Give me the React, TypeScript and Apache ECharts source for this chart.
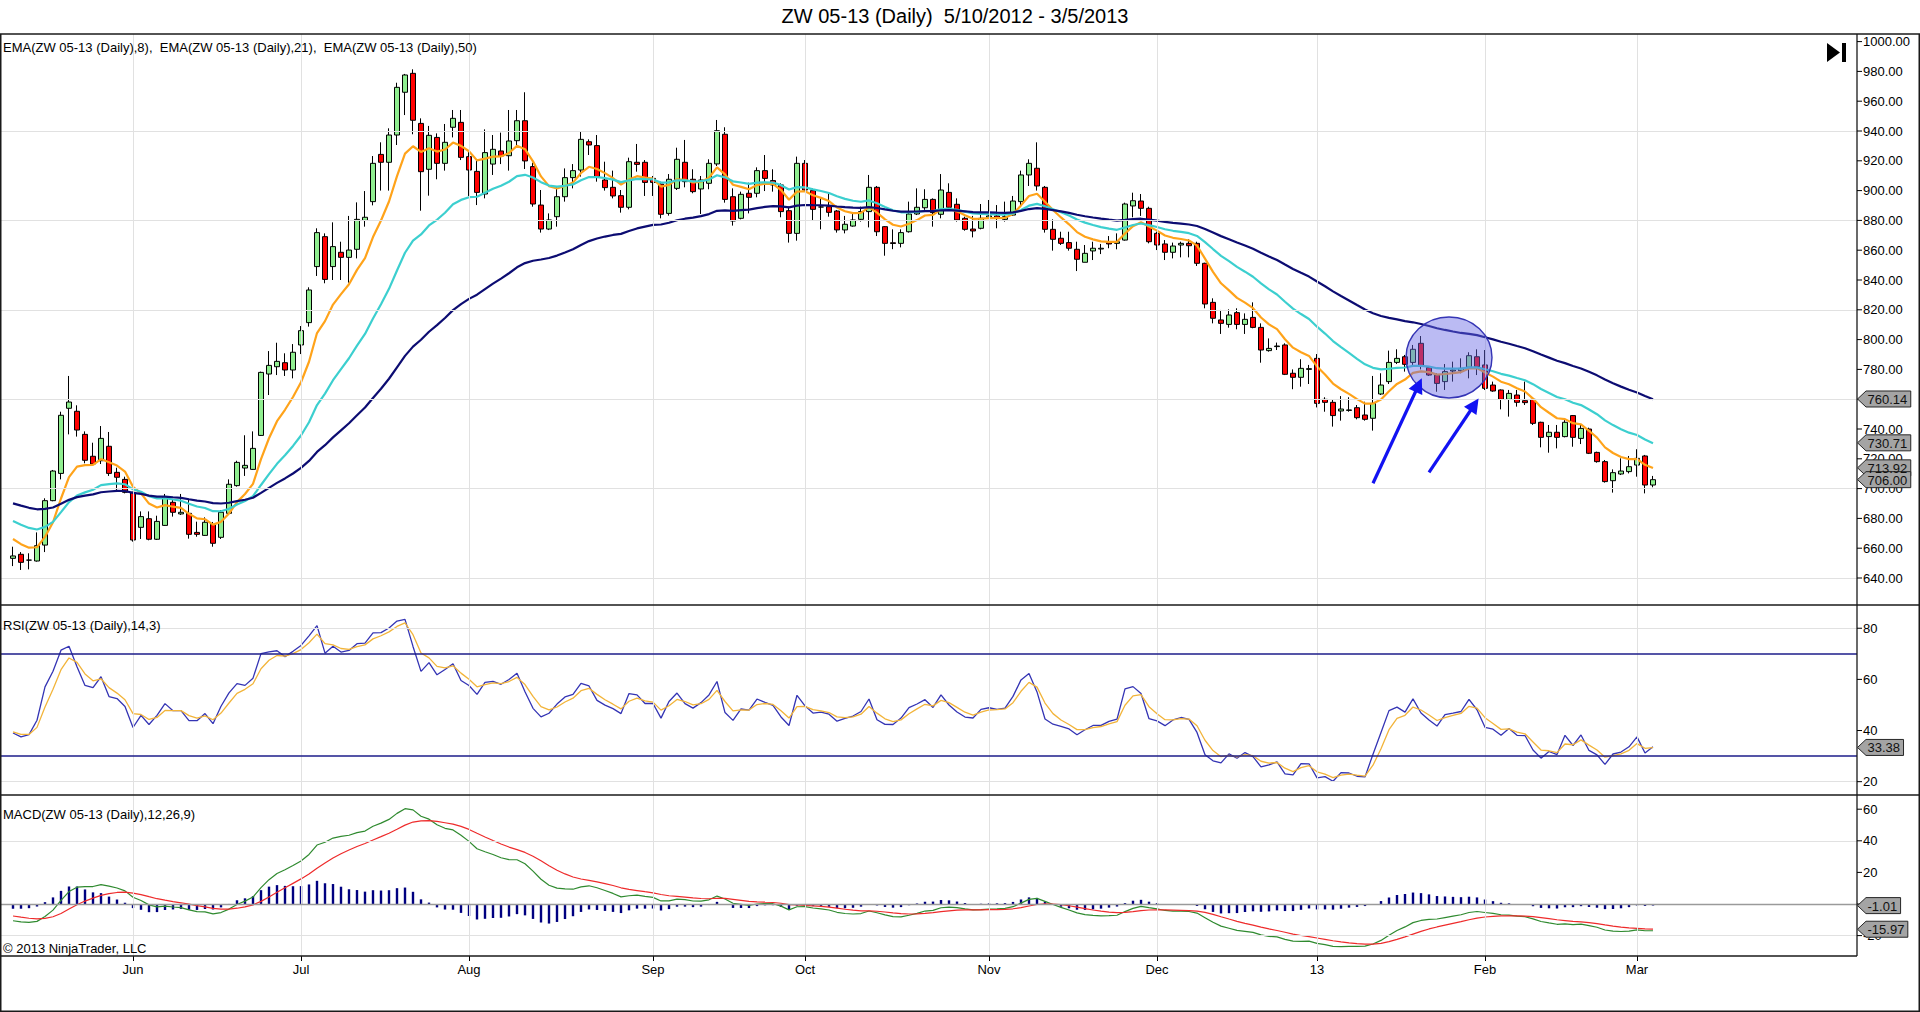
import React, { useEffect, useRef } from "react";
import * as echarts from "echarts";

const FONT = "'Liberation Sans', Arial, Helvetica, sans-serif";

const TITLE = "ZW 05-13 (Daily)  5/10/2012 - 3/5/2013";
const EMA_LEGEND = "EMA(ZW 05-13 (Daily),8),  EMA(ZW 05-13 (Daily),21),  EMA(ZW 05-13 (Daily),50)";
const RSI_LEGEND = "RSI(ZW 05-13 (Daily),14,3)";
const MACD_LEGEND = "MACD(ZW 05-13 (Daily),12,26,9)";
const COPYRIGHT = "© 2013 NinjaTrader, LLC";

// trading days
const MONTH_KEYS = ["2012-05", "2012-06", "2012-07", "2012-08", "2012-09", "2012-10", "2012-11", "2012-12", "2013-01", "2013-02", "2013-03"];
const MONTH_NAMES = ["", "Jun", "Jul", "Aug", "Sep", "Oct", "Nov", "Dec", "13", "Feb", "Mar"];
const MONTH_DAYS = [
  [10, 11, 14, 15, 16, 17, 18, 21, 22, 23, 24, 25, 29, 30, 31],
  [1, 4, 5, 6, 7, 8, 11, 12, 13, 14, 15, 18, 19, 20, 21, 22, 25, 26, 27, 28, 29],
  [2, 3, 5, 6, 9, 10, 11, 12, 13, 16, 17, 18, 19, 20, 23, 24, 25, 26, 27, 30, 31],
  [1, 2, 3, 6, 7, 8, 9, 10, 13, 14, 15, 16, 17, 20, 21, 22, 23, 24, 27, 28, 29, 30, 31],
  [4, 5, 6, 7, 10, 11, 12, 13, 14, 17, 18, 19, 20, 21, 24, 25, 26, 27, 28],
  [1, 2, 3, 4, 5, 8, 9, 10, 11, 12, 15, 16, 17, 18, 19, 22, 23, 24, 25, 26, 29, 30, 31],
  [1, 2, 5, 6, 7, 8, 9, 12, 13, 14, 15, 16, 19, 20, 21, 23, 26, 27, 28, 29, 30],
  [3, 4, 5, 6, 7, 10, 11, 12, 13, 14, 17, 18, 19, 20, 21, 24, 26, 27, 28, 31],
  [2, 3, 4, 7, 8, 9, 10, 11, 14, 15, 16, 17, 18, 22, 23, 24, 25, 28, 29, 30, 31],
  [1, 4, 5, 6, 7, 8, 11, 12, 13, 14, 15, 19, 20, 21, 22, 25, 26, 27, 28],
  [1, 4, 5],
];

const OPEN = [
  653.2, 655.9, 652, 651.4, 662.1, 691.9, 710.2, 753.9, 751.9, 736.4,
  721.7, 718.7, 728.4, 710.9, 706.2, 697.5, 674, 679.8, 666, 675.3,
  690.8, 683, 683.4, 670.6, 668.6, 676, 667.3, 683.4, 702, 713.8,
  712.9, 735.7, 776.9, 781.8, 784.5, 779.6, 796.4, 811.4, 849, 869.1,
  849, 858.6, 855.2, 860.6, 880, 892.6, 924.3, 919, 937.3, 966,
  978.7, 945.1, 914.3, 935.7, 918.3, 942.5, 945.8, 922.8, 912.9, 897.7,
  917.8, 926.6, 923.4, 933.5, 946.9, 916.1, 890.3, 874.2, 882.5, 895.9,
  908.7, 913.8, 932.8, 930.2, 907.1, 902.2, 896.6, 888.8, 919, 919,
  908.2, 904.4, 884.7, 901.5, 919, 907.6, 901.1, 904.9, 917.9, 937.8,
  895.9, 881.4, 898.2, 898.2, 913.4, 906.7, 903.8, 886.5, 871.3, 918.3,
  900, 889, 889.2, 886.3, 873.6, 876.2, 880.7, 885.9, 902.2, 875.8,
  865, 864.6, 872.4, 884.3, 888.5, 894.1, 884.1, 898.8, 890.8, 881.4,
  874.2, 874.7, 882.1, 883, 880.7, 883.6, 892.6, 910.5, 915, 902.2,
  874, 868, 865.1, 860.6, 851.9, 859.5, 860.8, 865.1, 864.6, 866.8,
  889.7, 893, 888.1, 871.3, 864.2, 858.6, 863.5, 864.6, 864.6, 851.2,
  825, 813.2, 810.2, 818.1, 810.2, 814.9, 808.2, 792.6, 795.3, 796.4,
  777.4, 774.7, 780, 787.4, 759.9, 757.9, 752.1, 752.5, 754.3, 749.4,
  747.2, 763.5, 771.8, 784.7, 788.5, 784.7, 797.5, 781.2, 776.2, 771.8,
  778.9, 779.1, 781.4, 788.5, 783, 769.5, 766.2, 759.9, 762.8, 759,
  759.9, 744.5, 734.9, 737.8, 734.9, 749, 733.7, 740, 724.3, 718.1,
  705.3, 709.8, 711.4, 715.8, 721.9, 702.4,
];
const HIGH = [
  661, 657.4, 656.6, 670.6, 693.5, 712.5, 751.6, 775.6, 755.9, 738.4,
  730.8, 742, 738, 714, 708, 697.9, 684.7, 684.7, 681.8, 696.4,
  692.8, 696.4, 692.8, 677.8, 680.7, 677.6, 685.6, 706.2, 718.7, 735.8,
  738.4, 778.5, 792.3, 797.9, 790.8, 797, 809.1, 835.1, 874.7, 871.3,
  878.7, 865.7, 883, 892.1, 899.7, 923.2, 932.4, 941.8, 972.4, 978.3,
  981.4, 948.5, 943.4, 938.4, 944.7, 954.1, 954.1, 926.1, 919.9, 941.1,
  937.3, 938.9, 954.1, 954.1, 966, 918.7, 900.4, 884.7, 902.6, 914.9,
  917.8, 939.6, 934.4, 937.3, 919.4, 913.4, 900.4, 922.1, 931.3, 920.5,
  909.8, 906, 911.1, 928.8, 934, 914.3, 909.8, 921, 947.4, 942.5,
  901.5, 899.3, 905.3, 915.6, 923.9, 914.3, 904.9, 889.2, 922.8, 920.5,
  901.5, 895.5, 898.2, 887, 883, 884.3, 889.2, 910.5, 903.1, 876.2,
  874, 874, 892.6, 901.5, 900.9, 894.8, 911.1, 904.9, 894.8, 882.5,
  883, 891, 893.7, 890.3, 892.6, 896.4, 913.4, 921, 932.4, 903.1,
  880.7, 872.4, 872.4, 865.7, 863.5, 865.7, 864.2, 869.5, 871.3, 891.9,
  898.6, 897.7, 889.2, 872.4, 866.8, 865.1, 865.7, 867.3, 865.7, 851.6,
  827.7, 819.9, 820.3, 821, 817.6, 825, 810.9, 800.8, 798, 797.5,
  780, 786.8, 783, 790.3, 761.3, 759.9, 762.1, 761.3, 756.1, 758.3,
  775.6, 777.4, 792.6, 793.5, 789.7, 796.4, 802.4, 781.8, 777.4, 783.6,
  785.2, 787.4, 791.5, 793.5, 793, 771.8, 766.6, 766.2, 766.2, 771.8,
  761.3, 744.9, 742.7, 742.7, 746, 749.4, 742.7, 740.9, 724.8, 719.2,
  712.9, 720.3, 721.9, 726.4, 722.6, 708.5,
];
const LOW = [
  648, 645.4, 645.8, 651, 657.4, 691.5, 706.2, 736.4, 734.9, 717,
  715.8, 716.5, 708.5, 697.9, 696.8, 664.4, 666.2, 665.3, 665.5, 674.9,
  681.2, 682.3, 666.4, 667.7, 668.2, 661, 666.2, 682.3, 701.3, 708.5,
  712.5, 735.3, 762.8, 776.2, 775.6, 774, 790.3, 808.7, 842.7, 837.8,
  840, 840, 838.2, 854.5, 875.8, 890.1, 900, 900, 930.6, 950.7,
  937.8, 886.5, 896.6, 907.6, 913.4, 935.7, 920.5, 896.4, 890.3, 894.8,
  910.5, 917.8, 913.4, 930.6, 914.5, 889.2, 871.8, 873.5, 875.8, 892.6,
  901.5, 909.4, 923.9, 906, 900, 894.8, 885.2, 887.4, 912.7, 896.4,
  896.4, 881.4, 883.2, 900.4, 902.2, 898.2, 884.3, 900.9, 916.5, 891.9,
  876.5, 880.7, 884.7, 895.5, 899.7, 899.3, 882.1, 865.1, 866.4, 899.3,
  879.8, 874, 882.5, 871.8, 871.3, 875.8, 879.2, 875.3, 869.5, 856.3,
  860.7, 861.9, 871.8, 883.6, 887, 875.8, 881.4, 888.1, 879.2, 873.1,
  868.6, 874, 881.4, 874.7, 879.2, 883, 890.3, 903.1, 900, 871.8,
  859.7, 863.5, 859.7, 846, 851.9, 853.4, 857.4, 861.3, 860.6, 866.4,
  882.1, 883, 864.6, 860.1, 853.4, 854.5, 855.2, 855.2, 849.4, 821,
  810.9, 803.8, 808, 806.9, 803.8, 807.6, 784.5, 791.9, 793, 776.2,
  766.7, 768.4, 770.2, 754.5, 751.6, 741.6, 745.6, 751.6, 746.5, 745.6,
  738.9, 762.8, 770.2, 783.6, 778.5, 783, 780, 775.6, 765, 766.2,
  771.8, 777.4, 774, 776.2, 766.2, 765, 753.2, 748.3, 755, 756.1,
  742.7, 727.7, 724.1, 727, 734.4, 728.1, 729.9, 723.2, 717.4, 704,
  697.3, 709.1, 710.2, 708, 696.8, 700.9,
];
const CLOSE = [
  654.8, 650.5, 652, 661.7, 691.9, 711.8, 749.2, 758.1, 739.3, 719,
  716.5, 733.7, 710.2, 707.6, 697.5, 665.5, 681.2, 666, 678, 694.6,
  684.1, 684.1, 669.3, 669.3, 677.4, 663.3, 684.1, 702.9, 717.6, 715.6,
  727, 778, 782.7, 785.4, 779.6, 791.5, 806, 833.3, 871.8, 840.4,
  862.4, 855.2, 860.1, 880.7, 882.1, 918.3, 919, 937.3, 969.3, 977.6,
  947.2, 912.7, 937.1, 918.3, 932.4, 948.5, 922.3, 913.8, 898.8, 925.5,
  927.7, 923.2, 933.3, 946.9, 919.9, 891, 874.2, 880.3, 895.9, 908.7,
  913.4, 934.4, 930.6, 909.4, 902, 896.4, 888.8, 919.4, 917.6, 905.5,
  905.5, 884.1, 907.6, 921, 906, 899.3, 907.1, 918.3, 940.2, 894.1,
  879.6, 897.5, 895.5, 913.4, 908.2, 903.8, 885.9, 871.3, 918.3, 900.4,
  887.4, 889, 885.4, 873.6, 877.4, 880.3, 885.9, 902.2, 872.4, 864.6,
  864.5, 871.8, 884.3, 888.8, 894.1, 885.2, 900.4, 888.8, 880.3, 874,
  872.9, 881.4, 883, 881.4, 882.5, 893, 910.5, 918.3, 903.1, 874,
  867.3, 864.6, 861.3, 853.9, 857.9, 861.3, 861.3, 864.2, 865.7, 891,
  893.2, 888.1, 865.7, 863.5, 858.6, 862.8, 864.6, 863, 851.2, 823.9,
  814.3, 810.9, 816.5, 810.2, 813.6, 808.2, 793, 794.1, 795.7, 776.7,
  774.7, 780.7, 780.5, 757.2, 757.9, 749, 753.4, 752.8, 747.6, 746.5,
  757.2, 769.5, 784.7, 787.4, 783.4, 793.5, 782.3, 776.2, 770.6, 778.5,
  779.6, 780.7, 789.2, 781.8, 767.3, 765.5, 759.9, 763.9, 757.9, 757.7,
  743.8, 734.4, 737.8, 734.4, 744.5, 734.4, 740.4, 723.7, 718.1, 704.7,
  710.7, 711.8, 714.7, 720.3, 702.4, 706,
];

const EMA_PERIODS = [8, 21, 50];
const EMA_SEEDS = [666.2, 678.3, 690.1];
const RSI_SEEDS = [3.2, 5.0, 39.5]; // avg gain, avg loss, smoothed avg
const MACD_SEEDS = [669.5, 680.1, -7.6]; // fast ema, slow ema, signal

// axes
const PRICE_TICKS = [640, 660, 680, 700, 720, 740, 760, 780, 800, 820, 840, 860, 880, 900, 920, 940, 960, 980, 1000];
const PRICE_LABEL_HIDDEN = [760]; // fully covered by the 760.14 tag
const PRICE_GRID = [640, 700, 760, 820, 880, 940];
const RSI_TICKS = [20, 40, 60, 80];
const RSI_GRID = [20, 80];
const RSI_BANDS = [70, 30];
const MACD_TICKS = [60, 40, 20, 0, -20];
const MACD_LABEL_HIDDEN = [0]; // fully covered by the -1.01 tag
const MACD_GRID = [40, -20];

// last-value tags shown on the right axis
const PRICE_TAGS = [760.14, 730.71, 713.92, 706.0];
const RSI_TAGS = [33.38];
const MACD_TAGS = [-15.97, -1.01];

// annotation (bar index, price)
const CIRCLE = [180.5, 788];
const ARROWS = [
  [171.0, 703.6, 177.1, 774.1],
  [178.0, 710.9, 184.2, 760.5],
];

const N_CAT = 232;

function buildCategories() {
  const cats: string[] = ["pad-0"];
  const starts: Record<string, string> = {};
  MONTH_KEYS.forEach((m, i) => {
    MONTH_DAYS[i].forEach((d, j) => {
      const c = `${m}-${String(d).padStart(2, "0")}`;
      if (j === 0 && MONTH_NAMES[i]) starts[c] = MONTH_NAMES[i];
      cats.push(c);
    });
  });
  while (cats.length < N_CAT) cats.push("pad-" + cats.length);
  return { cats, starts };
}

function emaSeries(src: number[], period: number, seed: number) {
  const k = 2 / (period + 1);
  let p = seed;
  return src.map((v, i) => {
    if (i > 0) p = p + k * (v - p);
    return +p.toFixed(3);
  });
}

function rsiSeries(src: number[]) {
  let g = RSI_SEEDS[0], l = RSI_SEEDS[1], a = RSI_SEEDS[2];
  const rsi: number[] = [], avg: number[] = [];
  src.forEach((v, i) => {
    if (i > 0) {
      const ch = v - src[i - 1];
      g = (g * 13 + Math.max(ch, 0)) / 14;
      l = (l * 13 + Math.max(-ch, 0)) / 14;
    }
    const r = l === 0 ? 100 : 100 - 100 / (1 + g / l);
    if (i > 0) a = a + 0.5 * (r - a);
    rsi.push(+r.toFixed(3));
    avg.push(+a.toFixed(3));
  });
  return { rsi, avg };
}

function macdSeries(src: number[]) {
  let f = MACD_SEEDS[0], s = MACD_SEEDS[1], sig = MACD_SEEDS[2];
  const macd: number[] = [], signal: number[] = [], diff: number[] = [];
  src.forEach((v, i) => {
    if (i > 0) {
      f += (2 / 13) * (v - f);
      s += (2 / 27) * (v - s);
    }
    const m = f - s;
    if (i > 0) sig += 0.2 * (m - sig);
    macd.push(+m.toFixed(3));
    signal.push(+sig.toFixed(3));
    diff.push(+(m - sig).toFixed(3));
  });
  return { macd, signal, diff };
}

const pad = (arr: any[]) => ["-", ...arr, ...new Array(N_CAT - 1 - arr.length).fill("-")];

const isTick = (v: number, ticks: number[], hidden: number[]) => {
  const r = Math.round(v);
  return Math.abs(v - r) < 1e-6 && ticks.includes(r) && !hidden.includes(r);
};

function textW(s: string) {
  let w = 0;
  for (const ch of s) w += ch === "." ? 3.6 : ch === "-" ? 4.3 : 7.23;
  return w;
}

export default function App() {
  const ref = useRef<HTMLDivElement>(null);

  useEffect(() => {
    if (!ref.current) return;
    const chart = echarts.init(ref.current, undefined, { renderer: "svg" });
    const { cats, starts } = buildCategories();
    const startCats = Object.keys(starts);
    const isStart = (_i: number, v: string) => starts[v] !== undefined;

    const candles = OPEN.map((o, i) => [o, CLOSE[i], LOW[i], HIGH[i]]);
    const emas = EMA_PERIODS.map((p, i) => emaSeries(CLOSE, p, EMA_SEEDS[i]));
    const { rsi, avg } = rsiSeries(CLOSE);
    const { macd, signal, diff } = macdSeries(CLOSE);

    const LEFT = 1;
    const WIDTH = 1856;
    const gridLine = { color: "#e1e1e1", width: 1, type: "solid" as const };

    const yLabel = (ticks: number[], hidden: number[], dec: number) => ({
      margin: 6,
      fontSize: 13,
      color: "#000",
      fontFamily: FONT,
      formatter: (v: number) => (isTick(v, ticks, hidden) ? v.toFixed(dec) : ""),
    });

    const mk = (data: any[]) => ({
      silent: true,
      symbol: ["none", "none"],
      label: { show: false },
      lineStyle: gridLine,
      data,
    });

    const option: any = {
      animation: false,
      backgroundColor: "#ffffff",
      grid: [
        { left: LEFT, width: WIDTH, top: 11.8, height: 596 },
        { left: LEFT, width: WIDTH, top: 577.1, height: 255.7 },
        { left: LEFT, width: WIDTH, top: 777.6, height: 189.6 },
        { left: LEFT, width: WIDTH, top: 34, height: 922 },
      ],
      xAxis: [0, 1, 2, 3].map((g) => ({
        type: "category",
        gridIndex: g,
        data: cats,
        boundaryGap: true,
        show: g === 3,
        axisLine: { show: false },
        axisTick: {
          show: g === 3,
          interval: isStart,
          alignWithLabel: true,
          length: 5,
          lineStyle: { color: "#000", width: 1 },
        },
        axisLabel: {
          show: g === 3,
          interval: isStart,
          formatter: (v: string) => starts[v] || "",
          margin: 7,
          fontSize: 13,
          color: "#000",
          fontFamily: FONT,
        },
        splitLine: { show: false },
      })),
      yAxis: [
        { gridIndex: 0, type: "value", position: "right", min: 620, max: 1020, interval: 20, axisLine: { show: false }, axisTick: { show: false }, splitLine: { show: false }, axisLabel: yLabel(PRICE_TICKS, PRICE_LABEL_HIDDEN, 2) },
        { gridIndex: 1, type: "value", position: "right", min: 0, max: 100, interval: 20, axisLine: { show: false }, axisTick: { show: false }, splitLine: { show: false }, axisLabel: yLabel(RSI_TICKS, [], 0) },
        { gridIndex: 2, type: "value", position: "right", min: -40, max: 80, interval: 20, axisLine: { show: false }, axisTick: { show: false }, splitLine: { show: false }, axisLabel: yLabel(MACD_TICKS, MACD_LABEL_HIDDEN, 0) },
        { gridIndex: 3, type: "value", show: false, min: 0, max: 1 },
      ],
      series: [
        {
          name: "monthGrid", type: "line", xAxisIndex: 3, yAxisIndex: 3, data: [], z: 1,
          markLine: mk(startCats.map((c) => ({ xAxis: c }))),
        },
        {
          name: "priceGrid", type: "line", xAxisIndex: 0, yAxisIndex: 0, data: [], z: 1,
          markLine: mk(PRICE_GRID.map((v) => ({ yAxis: v }))),
        },
        {
          name: "rsiGrid", type: "line", xAxisIndex: 1, yAxisIndex: 1, data: [], z: 1,
          markLine: mk([
            ...RSI_GRID.map((v) => ({ yAxis: v })),
            ...RSI_BANDS.map((v) => ({ yAxis: v, lineStyle: { color: "#1c1c8a", width: 1.6, type: "solid" } })),
          ]),
        },
        {
          name: "macdGrid", type: "line", xAxisIndex: 2, yAxisIndex: 2, data: [], z: 1,
          markLine: mk([
            ...MACD_GRID.map((v) => ({ yAxis: v })),
            { yAxis: 0, lineStyle: { color: "#9a9a9a", width: 1.3, type: "solid" } },
          ]),
        },
        {
          name: "ZW 05-13", type: "candlestick", xAxisIndex: 0, yAxisIndex: 0, z: 3,
          data: pad(candles),
          barWidth: 6,
          itemStyle: {
            color: "#90ee90", color0: "#ff0000",
            borderColor: "#000000", borderColor0: "#000000", borderWidth: 1,
          },
        },
        ...emas.map((e, i) => ({
          name: `EMA ${EMA_PERIODS[i]}`, type: "line", xAxisIndex: 0, yAxisIndex: 0, z: 4,
          data: pad(e), showSymbol: false, symbol: "none", smooth: false,
          lineStyle: { width: 2.2, color: ["#ffa31a", "#3ccfcf", "#0c0c72"][i] },
        })),
        {
          name: "RSI", type: "line", xAxisIndex: 1, yAxisIndex: 1, z: 4, data: pad(rsi),
          symbol: "none", lineStyle: { width: 1.3, color: "#3434b4" },
        },
        {
          name: "RSI Avg", type: "line", xAxisIndex: 1, yAxisIndex: 1, z: 4, data: pad(avg),
          symbol: "none", lineStyle: { width: 1.3, color: "#f2b43a" },
        },
        {
          name: "MACD Diff", type: "bar", xAxisIndex: 2, yAxisIndex: 2, z: 3, data: pad(diff),
          barWidth: 2.4, itemStyle: { color: "#000080" },
        },
        {
          name: "MACD", type: "line", xAxisIndex: 2, yAxisIndex: 2, z: 4, data: pad(macd),
          symbol: "none", lineStyle: { width: 1.2, color: "#2f8a2f" },
        },
        {
          name: "MACD Avg", type: "line", xAxisIndex: 2, yAxisIndex: 2, z: 4, data: pad(signal),
          symbol: "none", lineStyle: { width: 1.2, color: "#ee2b2b" },
        },
      ],
    };

    chart.setOption(option);

    // ----- overlay graphics positioned through the chart's scales -----
    const p0 = chart.convertToPixel({ gridIndex: 0 }, [0, 700]) as number[];
    const p1 = chart.convertToPixel({ gridIndex: 0 }, [1, 700]) as number[];
    const X = (k: number) => p0[0] + k * (p1[0] - p0[0]);
    const Y = (axis: number, v: number) => chart.convertToPixel({ yAxisIndex: axis }, v) as number;

    const AX = 1857;
    const frameColor = "#1a1a1a";
    const g: any[] = [];
    const line = (x1: number, y1: number, x2: number, y2: number, w = 1.5, c = frameColor, z = 40) =>
      g.push({ type: "line", silent: true, z, shape: { x1, y1, x2, y2 }, style: { stroke: c, lineWidth: w } });

    // frame
    line(0, 34, 1920, 34);
    line(0.75, 34, 0.75, 1011);
    line(1919.25, 34, 1919.25, 1011);
    line(0, 1011.25, 1920, 1011.25);
    line(0, 605, 1920, 605);
    line(0, 795, 1920, 795);
    line(0, 956, AX, 956);
    line(AX, 34, AX, 956, 1.3);

    // y ticks
    PRICE_TICKS.forEach((v) => line(AX, Y(0, v), AX + 5, Y(0, v), 1, "#000", 41));
    RSI_TICKS.forEach((v) => line(AX, Y(1, v), AX + 5, Y(1, v), 1, "#000", 41));
    MACD_TICKS.forEach((v) => line(AX, Y(2, v), AX + 5, Y(2, v), 1, "#000", 41));

    // texts
    const txt = (text: string, x: number, y: number, size: number, align = "left") =>
      g.push({
        type: "text", silent: true, z: 45, x, y,
        style: { text, fill: "#000", fontSize: size, fontFamily: FONT, textAlign: align, textVerticalAlign: "middle" },
      });
    txt(TITLE, 955, 16, 20, "center");
    txt(EMA_LEGEND, 3, 47, 13);
    txt(RSI_LEGEND, 3, 625, 13);
    txt(MACD_LEGEND, 3, 814, 13);
    txt(COPYRIGHT, 3, 948, 13);

    // jump-to-end icon
    g.push({ type: "polygon", silent: true, z: 45, shape: { points: [[1827, 43], [1827, 62], [1840, 52.5]] }, style: { fill: "#000" } });
    g.push({ type: "rect", silent: true, z: 45, shape: { x: 1842, y: 43, width: 4, height: 19 }, style: { fill: "#000" } });

    // value tags
    const tag = (y: number, text: string) => {
      const w = textW(text) + 5;
      const h = 8;
      g.push({
        type: "polygon", silent: true, z: 50,
        shape: { points: [[AX + 0.5, y], [AX + 9, y - h], [AX + 9 + w, y - h], [AX + 9 + w, y + h], [AX + 9, y + h]] },
        style: { fill: "#a4a4a4", stroke: "#262626", lineWidth: 1 },
      });
      g.push({
        type: "text", silent: true, z: 51, x: AX + 10.5, y: y + 0.5,
        style: { text, fill: "#111", fontSize: 13, fontFamily: FONT, textAlign: "left", textVerticalAlign: "middle" },
      });
    };
    PRICE_TAGS.forEach((v) => tag(Y(0, v), v.toFixed(2)));
    RSI_TAGS.forEach((v) => tag(Y(1, v), v.toFixed(2)));
    MACD_TAGS.forEach((v) => tag(Y(2, v), v.toFixed(2)));

    // highlight circle
    g.push({
      type: "ellipse", silent: true, z: 20,
      shape: { cx: X(CIRCLE[0]), cy: Y(0, CIRCLE[1]), rx: 43, ry: 40.5 },
      style: { fill: "rgba(104,104,228,0.45)", stroke: "#3535b5", lineWidth: 1.4 },
    });

    // arrows
    ARROWS.forEach(([k1, v1, k2, v2]) => {
      const x1 = X(k1), y1 = Y(0, v1), x2 = X(k2), y2 = Y(0, v2);
      const dx = x2 - x1, dy = y2 - y1;
      const len = Math.hypot(dx, dy);
      const ux = dx / len, uy = dy / len;
      const hl = 15, hw = 7.5;
      const bx = x2 - ux * hl, by = y2 - uy * hl;
      g.push({ type: "line", silent: true, z: 25, shape: { x1, y1, x2: bx + ux * 2, y2: by + uy * 2 }, style: { stroke: "#1212f2", lineWidth: 3.2 } });
      g.push({
        type: "polygon", silent: true, z: 25,
        shape: { points: [[x2, y2], [bx - uy * hw, by + ux * hw], [bx + uy * hw, by - ux * hw]] },
        style: { fill: "#1212f2" },
      });
    });

    chart.setOption({ graphic: g });

    return () => chart.dispose();
  }, []);

  return (
    <div
      ref={ref}
      style={{ position: "absolute", left: 0, top: 0, width: 1920, height: 1012, background: "#fff" }}
    />
  );
}
